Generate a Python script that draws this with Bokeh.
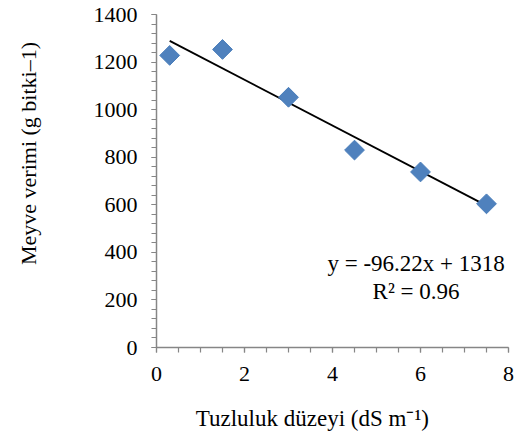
import math
from bokeh.plotting import figure
from bokeh.models import Range1d, SingleIntervalTicker, Label, ColumnDataSource
from bokeh.embed import file_html
from bokeh.resources import INLINE

# Data
salinity = [0.3, 1.5, 3.0, 4.5, 6.0, 7.5]
yield_g = [1228, 1253, 1052, 830, 738, 604]
trend_slope = -96.22
trend_intercept = 1318
eq_text = "y = -96.22x + 1318"
r2_text = "R² = 0.96"
x_label = "Tuzluluk düzeyi (dS m⁻¹)"
y_label = "Meyve verimi (g bitki–1)"

FONT = "Liberation Serif"
FS = "22px"
AXIS_GRAY = "#868686"
NB = "\u00a0"

p = figure(width=515, height=433, output_backend="svg", toolbar_location=None,
           x_range=Range1d(0, 8), y_range=Range1d(0, 1400),
           min_border_left=156, min_border_right=7, min_border_top=14, min_border_bottom=85)
p.outline_line_color = None
p.xgrid.visible = False
p.ygrid.visible = False
p.background_fill_color = "white"

p.xaxis.ticker = SingleIntervalTicker(interval=2, num_minor_ticks=4)
p.yaxis.ticker = SingleIntervalTicker(interval=200, num_minor_ticks=5)
for ax in (p.xaxis, p.yaxis):
    ax.axis_line_color = AXIS_GRAY
    ax.axis_line_width = 1.5
    ax.major_tick_line_color = AXIS_GRAY
    ax.minor_tick_line_color = AXIS_GRAY
    ax.major_tick_line_width = 1.2
    ax.minor_tick_line_width = 1.2
    ax.major_tick_out = 5
    ax.major_tick_in = 0
    ax.minor_tick_out = 5
    ax.minor_tick_in = 0
    ax.major_label_text_font = FONT
    ax.major_label_text_font_size = FS
    ax.major_label_text_color = "black"
    ax.axis_label_text_font = FONT
    ax.axis_label_text_font_style = "normal"
    ax.axis_label_text_color = "black"
p.xaxis.axis_label_text_font_size = "23px"
p.yaxis.axis_label_text_font_size = "22px"
p.xaxis.major_label_standoff = 14
p.yaxis.major_label_standoff = 14
p.xaxis.axis_label = x_label + NB * 7
p.yaxis.axis_label = NB * 10 + y_label
p.xaxis.axis_label_standoff = 22
p.yaxis.axis_label_standoff = 50

# trend line
tx = [min(salinity), max(salinity)]
ty = [trend_intercept + trend_slope * v for v in tx]
p.line(tx, ty, line_color="black", line_width=1.8)

src = ColumnDataSource(dict(x=salinity, y=yield_g))
p.scatter("x", "y", source=src, marker="square", angle=math.pi / 4, size=14,
          fill_color="#4F81BD", line_color="#4A7EBB", line_width=1)

for txt, lx, ly in [(eq_text, 5.90, 355), (r2_text, 5.90, 235)]:
    p.add_layout(Label(x=lx, y=ly, text=txt, text_font=FONT, text_font_size="23px",
                       text_align="center", text_baseline="middle", text_color="black"))

open("out.html", "w").write(file_html(p, INLINE))
